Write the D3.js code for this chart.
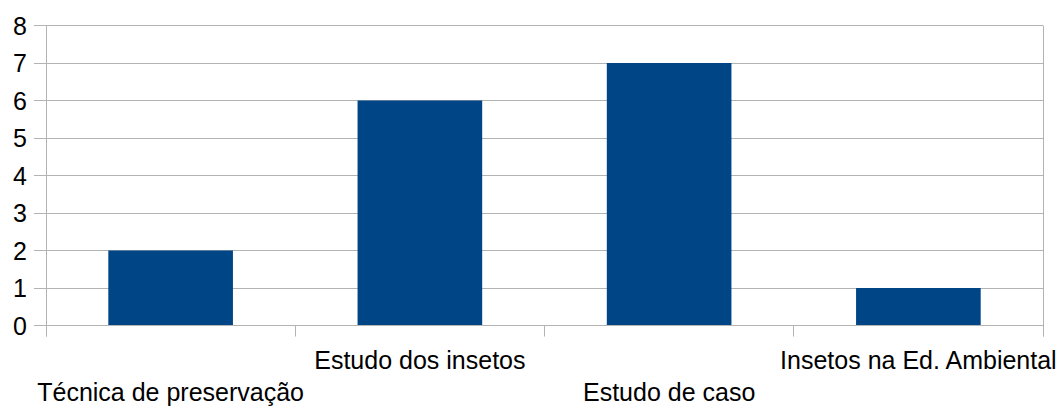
<!DOCTYPE html>
<html>
<head>
<meta charset="utf-8">
<script src="https://cdn.jsdelivr.net/npm/d3@7/dist/d3.min.js"></script>
<style>
  html, body { margin: 0; padding: 0; background: #fff; }
  svg { display: block; }
  text { font-family: "Liberation Sans", Arial, sans-serif; fill: #000; }
</style>
</head>
<body>
<svg id="chart" width="1062" height="406"></svg>
<script>
// Categories and counts
const categories = ["Técnica de preservação", "Estudo dos insetos", "Estudo de caso", "Insetos na Ed. Ambiental"];
const values = [2, 6, 7, 1];
const yTicks = [0, 1, 2, 3, 4, 5, 6, 7, 8];

const W = 1062, H = 406;
const plot = { left: 46, right: 1043, top: 25.5, bottom: 325.5 };
const gridColor = "#b3b3b3";
const barColor = "#004586";

const svg = d3.select("#chart");

const x = d3.scaleBand()
  .domain(categories)
  .range([plot.left, plot.right])
  .paddingInner(0.5)
  .paddingOuter(0.25);

const y = d3.scaleLinear()
  .domain([0, 8])
  .range([plot.bottom, plot.top]);

const step = x.step();
const crisp = v => Math.round(v - 0.5) + 0.5;

// Horizontal gridlines with small ticks out to the left
svg.append("g")
  .selectAll("line")
  .data(yTicks)
  .join("line")
  .attr("x1", plot.left - 12)
  .attr("x2", plot.right)
  .attr("y1", d => crisp(y(d)))
  .attr("y2", d => crisp(y(d)))
  .attr("stroke", gridColor)
  .attr("stroke-width", 1);

// Left axis line and right border
svg.append("line")
  .attr("x1", crisp(plot.left)).attr("x2", crisp(plot.left))
  .attr("y1", crisp(y(8))).attr("y2", plot.bottom + 11)
  .attr("stroke", gridColor);
svg.append("line")
  .attr("x1", crisp(plot.right)).attr("x2", crisp(plot.right))
  .attr("y1", crisp(y(8))).attr("y2", plot.bottom + 11)
  .attr("stroke", gridColor);

// Category boundary ticks below the axis
const boundaries = d3.range(categories.length + 1).map(i => plot.left + i * step);
svg.append("g")
  .selectAll("line")
  .data(boundaries)
  .join("line")
  .attr("x1", d => crisp(d)).attr("x2", d => crisp(d))
  .attr("y1", plot.bottom).attr("y2", plot.bottom + 11)
  .attr("stroke", gridColor);

// Bars
svg.append("g")
  .selectAll("rect")
  .data(categories.map((c, i) => ({ c, v: values[i] })))
  .join("rect")
  .attr("x", d => x(d.c))
  .attr("width", x.bandwidth())
  .attr("y", d => y(d.v))
  .attr("height", d => y(0) - y(d.v))
  .attr("fill", barColor);

// Redraw the baseline over the bars
svg.append("line")
  .attr("x1", plot.left).attr("x2", plot.right)
  .attr("y1", crisp(y(0))).attr("y2", crisp(y(0)))
  .attr("stroke", gridColor);

// Y tick labels
svg.append("g")
  .selectAll("text")
  .data(yTicks)
  .join("text")
  .attr("x", 27)
  .attr("y", d => y(d))
  .attr("dy", "0.36em")
  .attr("text-anchor", "end")
  .style("font-size", "25px")
  .text(d => d);

// Category labels, staggered in two rows
svg.append("g")
  .selectAll("text")
  .data(categories)
  .join("text")
  .attr("x", d => x(d) + x.bandwidth() / 2)
  .attr("y", (d, i) => i % 2 === 0 ? 401 : 369)
  .attr("text-anchor", "middle")
  .style("font-size", "25px")
  .text(d => d);
</script>
</body>
</html>
